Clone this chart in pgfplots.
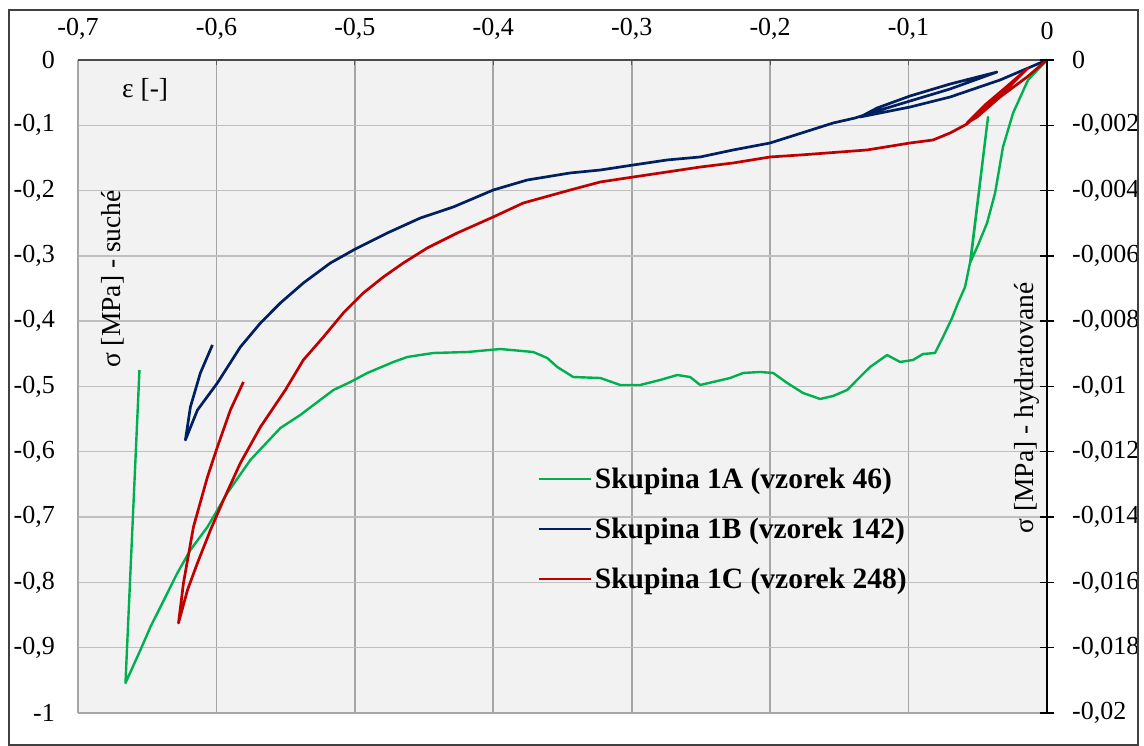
\documentclass[border=0pt]{standalone}
\usepackage{fontspec}
\setmainfont{Liberation Serif}
\usepackage{pgfplots}
\pgfplotsset{compat=1.18}
\definecolor{cgreen}{RGB}{0,176,80}
\definecolor{cblue}{RGB}{0,32,96}
\definecolor{cred}{RGB}{192,0,0}
\definecolor{bgc}{RGB}{242,242,242}
\definecolor{vgrid}{RGB}{166,166,166}
\definecolor{hgrid}{RGB}{191,191,191}
\newcommand{\tickfont}{\fontsize{26}{30}\selectfont}
\newcommand{\labfont}{\fontsize{27.5}{32}\selectfont}
\newcommand{\legfont}{\fontsize{29.5}{34}\selectfont\bfseries}
\begin{document}
\begin{tikzpicture}[x=1pt,y=1pt]
\useasboundingbox (0,0) rectangle (1144,746);
\fill[white] (0,0) rectangle (1144,746);
\begin{axis}[
  at={(78pt,33pt)}, anchor=south west,
  width=969pt, height=653pt, scale only axis,
  xmin=-0.7, xmax=0, ymin=-1, ymax=0,
  scaled ticks=false,
  clip=false,
  axis background/.style={fill=bgc},
  axis line style={draw=none},
  xtick={-0.7,-0.6,-0.5,-0.4,-0.3,-0.2,-0.1,0},
  xticklabels={{-0,7},{-0,6},{-0,5},{-0,4},{-0,3},{-0,2},{-0,1},{0}},
  ytick={-1,-0.9,-0.8,-0.7,-0.6,-0.5,-0.4,-0.3,-0.2,-0.1,0},
  yticklabels={{-1},{-0,9},{-0,8},{-0,7},{-0,6},{-0,5},{-0,4},{-0,3},{-0,2},{-0,1},{0}},
  xtick pos=upper, xticklabel pos=upper,
  ytick pos=left,
  tick align=inside,
  major tick length=5pt,
  xtick style={draw=black!65, line width=1.2pt},
  ytick style={draw=none},
  grid=major,
  x grid style={vgrid, line width=1.6pt},
  y grid style={hgrid, line width=1.4pt},
  tick label style={font=\tickfont, inner sep=0pt},
  xticklabel style={yshift=20pt},
  yticklabel style={xshift=-23pt},
  legend style={at={(0.4737,0.2818)}, anchor=west, draw=none, fill=none,
    font=\legfont, inner sep=0pt, row sep=22pt, nodes={inner sep=3pt}},
  legend cell align=left,
  legend image code/.code={\draw[#1] (0pt,0pt) -- (52pt,0pt);},
]
\addplot[cgreen, line width=2.4pt, line join=round] coordinates {
(0,0) (-0.0137,-0.0306) (-0.0245,-0.0812) (-0.0318,-0.1332) (-0.0375,-0.2037)
(-0.0433,-0.2496) (-0.0498,-0.2833) (-0.0556,-0.3109) (-0.0426,-0.0873)
(-0.0549,-0.3032) (-0.0592,-0.3476) (-0.0643,-0.3721) (-0.0686,-0.3951)
(-0.0751,-0.4242) (-0.0809,-0.4487) (-0.0895,-0.4502) (-0.0968,-0.4594)
(-0.1061,-0.4625) (-0.1155,-0.4518) (-0.1278,-0.4701) (-0.1372,-0.4900)
(-0.1444,-0.5054) (-0.1545,-0.5145) (-0.1639,-0.5191) (-0.1762,-0.5100)
(-0.1877,-0.4946) (-0.1978,-0.4793) (-0.2072,-0.4778) (-0.2195,-0.4793)
(-0.2289,-0.4870) (-0.2412,-0.4931) (-0.2505,-0.4977) (-0.2578,-0.4855)
(-0.2671,-0.4824) (-0.2794,-0.4900) (-0.2939,-0.4977) (-0.3083,-0.4977)
(-0.3227,-0.4870) (-0.3422,-0.4855) (-0.3538,-0.4701) (-0.3610,-0.4564)
(-0.3711,-0.4472) (-0.3949,-0.4426) (-0.4188,-0.4472) (-0.4433,-0.4487)
(-0.4621,-0.4548) (-0.4722,-0.4625) (-0.4910,-0.4793) (-0.5032,-0.4931)
(-0.5155,-0.5054) (-0.5394,-0.5436) (-0.5538,-0.5636) (-0.5755,-0.6126)
(-0.5921,-0.6631) (-0.6065,-0.7152) (-0.6188,-0.7504) (-0.6282,-0.7856)
(-0.6390,-0.8315) (-0.6477,-0.8683) (-0.6549,-0.9035) (-0.6657,-0.9541)
(-0.6556,-0.4747)
};
\addlegendentry{Skupina 1A (vzorek 46)}
\addplot[cblue, line width=2.7pt, line join=round] coordinates {
(0,0) (-0.0339,-0.0306) (-0.0700,-0.0567) (-0.0989,-0.0720) (-0.1350,-0.0873)
(-0.1227,-0.0735) (-0.0989,-0.0551) (-0.0700,-0.0368) (-0.0361,-0.0184)
(-0.0700,-0.0444) (-0.0989,-0.0628) (-0.1227,-0.0781) (-0.1386,-0.0888)
(-0.1545,-0.0965) (-0.2000,-0.1271) (-0.2267,-0.1378) (-0.2505,-0.1485)
(-0.2744,-0.1531) (-0.2989,-0.1608) (-0.3227,-0.1685) (-0.3444,-0.1730)
(-0.3755,-0.1838) (-0.4000,-0.1991) (-0.4289,-0.2251) (-0.4527,-0.2420)
(-0.4765,-0.2649) (-0.4996,-0.2894) (-0.5177,-0.3109) (-0.5372,-0.3415)
(-0.5538,-0.3721) (-0.5682,-0.4028) (-0.5827,-0.4395) (-0.5993,-0.4946)
(-0.6137,-0.5360) (-0.6224,-0.5819) (-0.6188,-0.5314) (-0.6116,-0.4793)
(-0.6029,-0.4364)
};
\addlegendentry{Skupina 1B (vzorek 142)}
\addplot[cred, line width=2.7pt, line join=round] coordinates {
(0,0) (-0.0144,-0.0260) (-0.0339,-0.0567) (-0.0505,-0.0873) (-0.0578,-0.0965)
(-0.0448,-0.0689) (-0.0303,-0.0429) (-0.0137,-0.0123) (-0.0303,-0.0475)
(-0.0448,-0.0735) (-0.0578,-0.0980) (-0.0700,-0.1118) (-0.0823,-0.1225)
(-0.0989,-0.1271) (-0.1300,-0.1378) (-0.1783,-0.1455) (-0.2000,-0.1485)
(-0.2267,-0.1577) (-0.2505,-0.1639) (-0.2744,-0.1715) (-0.2989,-0.1792)
(-0.3227,-0.1868) (-0.3444,-0.1991) (-0.3783,-0.2190) (-0.4000,-0.2404)
(-0.4260,-0.2649) (-0.4477,-0.2879) (-0.4650,-0.3109) (-0.4794,-0.3323)
(-0.4939,-0.3568) (-0.5083,-0.3874) (-0.5227,-0.4242) (-0.5372,-0.4594)
(-0.5502,-0.5054) (-0.5682,-0.5620) (-0.5827,-0.6172) (-0.5949,-0.6738)
(-0.6043,-0.7198) (-0.6137,-0.7703) (-0.6209,-0.8116) (-0.6274,-0.8622)
(-0.6238,-0.8009) (-0.6166,-0.7152) (-0.6065,-0.6386) (-0.5993,-0.5926)
(-0.5899,-0.5360) (-0.5805,-0.4931)
};
\addlegendentry{Skupina 1C (vzorek 248)}
\draw[vgrid, line width=1.6pt] (rel axis cs:0,0) -- (rel axis cs:0,1);
\draw[vgrid, line width=1.6pt] (rel axis cs:0,0) -- (rel axis cs:1,0);
\draw[black!70, line width=1.4pt] (rel axis cs:0,1) -- (rel axis cs:1,1);
\end{axis}
\begin{axis}[
  at={(78pt,33pt)}, anchor=south west,
  width=969pt, height=653pt, scale only axis,
  xmin=-0.7, xmax=0, ymin=-0.02, ymax=0,
  scaled ticks=false,
  hide x axis,
  axis y line*=right,
  axis line style={-, black, line width=1.6pt},
  ytick={-0.02,-0.018,-0.016,-0.014,-0.012,-0.01,-0.008,-0.006,-0.004,-0.002,0},
  yticklabels={{-0,02},{-0,018},{-0,016},{-0,014},{-0,012},{-0,01},{-0,008},{-0,006},{-0,004},{-0,002},{0}},
  tick align=center, major tick length=14pt,
  ytick style={black, line width=1.4pt},
  yticklabel style={font=\tickfont, inner sep=0pt, xshift=18pt},
]
\end{axis}
\node[rotate=90, inner sep=0pt, font=\labfont] at (113,467) {σ [MPa] - suché};
\node[rotate=90, inner sep=0pt, font=\labfont] at (1027,338) {σ [MPa] - hydratované};
\node[anchor=base west, inner sep=0pt, font=\labfont] at (122,648) {ε [-]};
\draw[black!75, line width=1.3pt] (9,1) rectangle (1138,736);
\end{tikzpicture}
\end{document}
